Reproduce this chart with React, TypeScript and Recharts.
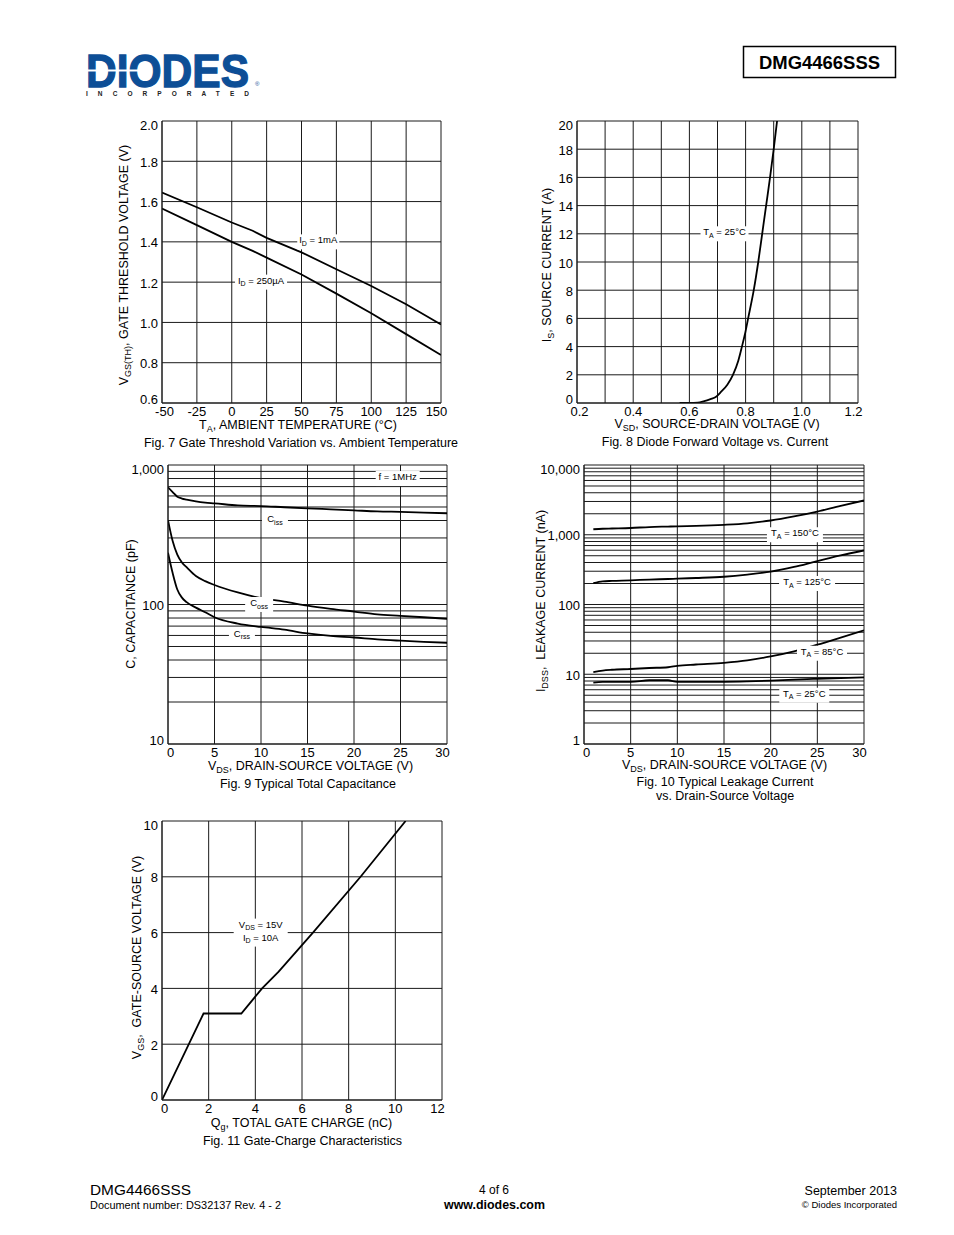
import React from 'react';
import { LineChart, Line, XAxis, YAxis, CartesianGrid, ReferenceDot } from 'recharts';

const FONT = '"Liberation Sans", Arial, Helvetica, sans-serif';
const INK = '#000';
const GRID = '#1a1a1a';

// ---------------- Fig. 7  Gate threshold vs temperature ----------------
const fig7Temp = [-50, -25, 0, 15, 25, 50, 75, 100, 125, 150];
const fig7Vth1mA = [1.645, 1.572, 1.496, 1.455, 1.42, 1.348, 1.264, 1.181, 1.09, 0.99];
const fig7Vth250uA = [1.565, 1.483, 1.4, 1.355, 1.322, 1.238, 1.143, 1.046, 0.942, 0.838];
const fig7XTicks = [-50, -25, 0, 25, 50, 75, 100, 125, 150];
const fig7YTicks = [0.6, 0.8, 1.0, 1.2, 1.4, 1.6, 1.8, 2.0];

// ---------------- Fig. 8  Diode forward voltage vs current ----------------
const fig8Vsd = [0.565, 0.6, 0.63, 0.65, 0.675, 0.695, 0.713, 0.735, 0.755, 0.774, 0.787, 0.799, 0.809, 0.829, 0.845, 0.859, 0.873, 0.887, 0.9, 0.912];
const fig8Is = [0, 0, 0.03, 0.12, 0.28, 0.45, 0.8, 1.3, 2.0, 3.0, 4.0, 5.0, 6.0, 8.0, 10, 12, 14, 16, 18, 20];
const fig8XTicks = [0.2, 0.4, 0.6, 0.8, 1.0, 1.2];
const fig8XGrid = [0.2, 0.3, 0.4, 0.5, 0.6, 0.7, 0.8, 0.9, 1.0, 1.1, 1.2];
const fig8YTicks = [0, 2, 4, 6, 8, 10, 12, 14, 16, 18, 20];

// ---------------- Fig. 9  Typical total capacitance ----------------
const fig9Vds = [0, 0.5, 1, 1.5, 2, 3, 4, 5, 7.5, 10, 12.5, 15, 17.5, 20, 22.5, 25, 27.5, 30];
const fig9Ciss = [692, 640, 592, 575, 565, 548, 537, 531, 513, 508, 498, 489, 481, 473, 465, 461, 456, 451];
const fig9Coss = [403, 285, 228, 200, 185, 160, 147, 138, 122, 111, 105, 98, 93, 89, 85, 83, 81, 79];
const fig9Crss = [235, 168, 128, 112, 104, 95, 88, 81, 73, 69, 66, 62, 59.5, 58, 56.2, 55, 54, 53.2];
const fig9XTicks = [0, 5, 10, 15, 20, 25, 30];
const fig9YTicks = [10, 100, 1000];
const fig9YGrid = [10, 20, 30, 40, 50, 60, 70, 80, 90, 100, 200, 300, 400, 500, 600, 700, 800, 900, 1000];

// ---------------- Fig. 10  Typical leakage current ----------------
const fig10Vds = [1, 2, 3, 5, 7, 9, 10, 12, 15, 17.5, 20, 22.5, 25, 27.5, 30];
const fig10Leak150 = [1200, 1220, 1230, 1250, 1290, 1310, 1320, 1340, 1390, 1460, 1600, 1830, 2150, 2600, 3100];
const fig10Leak125 = [202, 215, 218, 222, 228, 232, 235, 240, 250, 268, 295, 345, 420, 505, 595];
const fig10Leak85 = [10.7, 11.3, 11.6, 11.9, 12.3, 12.6, 13.2, 13.8, 14.6, 15.8, 18, 21.3, 26.5, 33.5, 42.5];
const fig10Leak25 = [7.6, 7.8, 7.8, 7.8, 8.2, 8.2, 7.8, 7.8, 7.8, 7.9, 8.1, 8.4, 8.6, 8.8, 9.0];
const fig10XTicks = [0, 5, 10, 15, 20, 25, 30];
const fig10YTicks = [1, 10, 100, 1000, 10000];
const fig10YGrid = [1, 2, 3, 4, 5, 6, 7, 8, 9, 10, 20, 30, 40, 50, 60, 70, 80, 90, 100, 200, 300, 400, 500, 600, 700, 800, 900, 1000, 2000, 3000, 4000, 5000, 6000, 7000, 8000, 9000, 10000];

// ---------------- Fig. 11  Gate charge ----------------
const fig11Qg = [0, 1.78, 3.4, 4.29, 5.0, 6.47, 8.51, 10.44];
const fig11Vgs = [0, 3.1, 3.1, 4.0, 4.6, 6.0, 8.0, 10.0];
const fig11XTicks = [0, 2, 4, 6, 8, 10, 12];
const fig11YTicks = [0, 2, 4, 6, 8, 10];

type Pt = { x: number; y: number };
const zip = (xs: number[], ys: number[]): Pt[] => xs.map((x, i) => ({ x, y: ys[i] }));

type Part = { t: string; s?: boolean };
type Ann = { x: number; y: number; w: number; lines: Part[][] };

function renderParts(parts: Part[], fs: number, sfs: number, shift: number) {
  let prevSub = false;
  return parts.map((p, j) => {
    let dy = 0;
    if (p.s && !prevSub) dy = shift;
    if (!p.s && prevSub) dy = -shift;
    prevSub = !!p.s;
    return (
      <tspan key={j} fontSize={p.s ? sfs : fs} dy={dy}>
        {p.t}
      </tspan>
    );
  });
}

const AnnShape = (props: any) => {
  const { cx, cy, ann } = props;
  if (typeof cx !== 'number' || typeof cy !== 'number') return null;
  const lh = 13;
  const h = ann.lines.length * lh + 2;
  const top = cy - h / 2;
  return (
    <g>
      <rect x={cx - ann.w / 2} y={top} width={ann.w} height={h} fill="#fff" />
      {ann.lines.map((ln: Part[], i: number) => (
        <text
          key={i}
          x={cx}
          y={top + 9 + i * lh}
          textAnchor="middle"
          fontFamily={FONT}
          fontSize={9.5}
          fill={INK}
          style={{ whiteSpace: 'pre' }}
        >
          {renderParts(ln, 9.5, 7, 2.5)}
        </text>
      ))}
    </g>
  );
};

const fmtComma = (v: number) => v.toLocaleString('en-US');
const fmt1 = (v: number) => v.toFixed(1);
const fmtPlain = (v: number) => String(v);

type PlotProps = {
  left: number;
  top: number;
  width: number;
  height: number;
  xDomain: [number, number];
  yDomain: [number, number];
  xTicks: number[];
  yTicks: number[];
  xGrid: number[];
  yGrid: number[];
  yLog?: boolean;
  xFmt?: (v: number) => string;
  yFmt?: (v: number) => string;
  series: Pt[][];
  curve: 'linear' | 'monotone';
  anns: Ann[];
};

function Plot(p: PlotProps) {
  const padL = 60;
  const padT = 10;
  const padR = 14;
  const padB = 30;
  const xf = p.xFmt || fmtPlain;
  const yf = p.yFmt || fmtPlain;
  const xTick = (tp: any) => {
    const v = tp.payload.value;
    const sh = v === p.xDomain[0] ? 2.5 : v === p.xDomain[1] ? -4.5 : 0;
    return (
      <text x={tp.x + sh} y={tp.y} dy="0.71em" textAnchor="middle" fill={INK} fontSize={13} fontFamily={FONT}>
        {xf(v)}
      </text>
    );
  };
  const yTick = (tp: any) => {
    const v = tp.payload.value;
    const sh = v === p.yDomain[1] ? 4 : v === p.yDomain[0] ? -3.5 : 1;
    return (
      <text x={tp.x} y={tp.y + sh} dy="0.355em" textAnchor="end" fill={INK} fontSize={13} fontFamily={FONT}>
        {yf(v)}
      </text>
    );
  };
  return (
    <div style={{ position: 'absolute', left: p.left - padL, top: p.top - padT }}>
      <LineChart
        width={p.width + padL + padR}
        height={p.height + padT + padB}
        margin={{ top: padT, right: padR, left: 0, bottom: 0 }}
      >
        <CartesianGrid
          stroke={GRID}
          strokeWidth={1}
          strokeOpacity={1}
          horizontalValues={p.yGrid}
          verticalValues={p.xGrid}
          fill="none"
        />
        <XAxis
          type="number"
          dataKey="x"
          domain={p.xDomain}
          ticks={p.xTicks}
          allowDataOverflow
          height={padB}
          tickLine={false}
          axisLine={{ stroke: GRID }}
          tick={xTick}
          tickSize={0}
          tickMargin={4}
          interval={0}
        />
        <YAxis
          type="number"
          scale={p.yLog ? 'log' : 'auto'}
          domain={p.yDomain}
          ticks={p.yTicks}
          allowDataOverflow
          width={padL}
          tickLine={false}
          axisLine={{ stroke: GRID }}
          tick={yTick}
          tickSize={0}
          tickMargin={4}
          interval={0}
        />
        {p.series.map((d, i) => (
          <Line
            key={i}
            data={d}
            dataKey="y"
            type={p.curve}
            stroke={INK}
            strokeWidth={1.8}
            dot={false}
            activeDot={false}
            isAnimationActive={false}
          />
        ))}
        {p.anns.map((a, i) => (
          <ReferenceDot
            key={'a' + i}
            x={a.x}
            y={a.y}
            r={0}
            ifOverflow="visible"
            shape={(sp: any) => <AnnShape cx={sp.cx} cy={sp.cy} ann={a} />}
          />
        ))}
      </LineChart>
    </div>
  );
}

// ---------- annotations ----------
const fig7Anns: Ann[] = [
  { x: 62, y: 1.4, w: 42, lines: [[{ t: 'I' }, { t: 'D', s: true }, { t: ' = 1mA' }]] },
  { x: 21, y: 1.2, w: 52, lines: [[{ t: 'I' }, { t: 'D', s: true }, { t: ' = 250µA' }]] },
];
const fig8Anns: Ann[] = [
  { x: 0.725, y: 12, w: 48, lines: [[{ t: 'T' }, { t: 'A', s: true }, { t: ' = 25°C' }]] },
];
const fig9Anns: Ann[] = [
  { x: 24.7, y: 800, w: 44, lines: [[{ t: 'f = 1MHz' }]] },
  { x: 11.5, y: 400, w: 26, lines: [[{ t: 'C' }, { t: 'iss', s: true }]] },
  { x: 9.8, y: 100, w: 28, lines: [[{ t: 'C' }, { t: 'oss', s: true }]] },
  { x: 7.95, y: 60, w: 26, lines: [[{ t: 'C' }, { t: 'rss', s: true }]] },
];
const fig10Anns: Ann[] = [
  { x: 22.6, y: 1000, w: 56, lines: [[{ t: 'T' }, { t: 'A', s: true }, { t: ' = 150°C' }]] },
  { x: 23.9, y: 200, w: 56, lines: [[{ t: 'T' }, { t: 'A', s: true }, { t: ' = 125°C' }]] },
  { x: 25.5, y: 20, w: 50, lines: [[{ t: 'T' }, { t: 'A', s: true }, { t: ' = 85°C' }]] },
  { x: 23.6, y: 5, w: 50, lines: [[{ t: 'T' }, { t: 'A', s: true }, { t: ' = 25°C' }]] },
];
const fig11Anns: Ann[] = [
  {
    x: 4.23,
    y: 6,
    w: 54,
    lines: [
      [{ t: 'V' }, { t: 'DS', s: true }, { t: ' = 15V' }],
      [{ t: 'I' }, { t: 'D', s: true }, { t: ' = 10A' }],
    ],
  },
];

// ---------- static page text ----------
type TitleSpec = { x: number; y: number; rot?: boolean; parts: Part[] };
const titles: TitleSpec[] = [
  { x: 123, y: 265, rot: true, parts: [{ t: 'V' }, { t: 'GS(TH)', s: true }, { t: ', GATE THRESHOLD VOLTAGE (V)' }] },
  { x: 298, y: 424.5, parts: [{ t: 'T' }, { t: 'A', s: true }, { t: ', AMBIENT TEMPERATURE (°C)' }] },
  { x: 301, y: 442.5, parts: [{ t: 'Fig. 7 Gate Threshold Variation vs. Ambient Temperature' }] },
  { x: 546, y: 265, rot: true, parts: [{ t: 'I' }, { t: 'S', s: true }, { t: ', SOURCE CURRENT (A)' }] },
  { x: 717, y: 423.5, parts: [{ t: 'V' }, { t: 'SD', s: true }, { t: ', SOURCE-DRAIN VOLTAGE (V)' }] },
  { x: 715, y: 441, parts: [{ t: 'Fig. 8 Diode Forward Voltage vs. Current' }] },
  { x: 130, y: 604, rot: true, parts: [{ t: 'C, CAPACITANCE (pF)' }] },
  { x: 310.5, y: 765.5, parts: [{ t: 'V' }, { t: 'DS', s: true }, { t: ', DRAIN-SOURCE VOLTAGE (V)' }] },
  { x: 308, y: 783, parts: [{ t: 'Fig. 9 Typical Total Capacitance' }] },
  { x: 540, y: 601, rot: true, parts: [{ t: 'I' }, { t: 'DSS', s: true }, { t: ',  LEAKAGE CURRENT (nA)' }] },
  { x: 724.5, y: 764.5, parts: [{ t: 'V' }, { t: 'DS', s: true }, { t: ', DRAIN-SOURCE VOLTAGE (V)' }] },
  { x: 725, y: 781, parts: [{ t: 'Fig. 10 Typical Leakage Current' }] },
  { x: 725, y: 795, parts: [{ t: 'vs. Drain-Source Voltage' }] },
  { x: 136, y: 957.5, rot: true, parts: [{ t: 'V' }, { t: 'GS', s: true }, { t: ',  GATE-SOURCE VOLTAGE (V)' }] },
  { x: 301.5, y: 1122.5, parts: [{ t: 'Q' }, { t: 'g', s: true }, { t: ', TOTAL GATE CHARGE (nC)' }] },
  { x: 302.5, y: 1140.5, parts: [{ t: 'Fig. 11 Gate-Charge Characteristics' }] },
];

function PageText() {
  const fs = 12.5;
  return (
    <svg
      width={954}
      height={1235}
      style={{ position: 'absolute', left: 0, top: 0, pointerEvents: 'none' }}
      fontFamily={FONT}
    >
      {/* logo: one text element with positioned parts */}
      <text>
        <tspan x={86} y={87} fontSize={47} fontWeight={700} fill="#0D4E96" stroke="#0D4E96" strokeWidth={1.3} textLength={163} lengthAdjust="spacingAndGlyphs">
          DIODES
        </tspan>
        <tspan x={255} y={86} fontSize={6} fill="#0D4E96">®</tspan>
        <tspan x={86} y={96} fontSize={6.5} fontWeight={700} fill="#222" textLength={163} lengthAdjust="spacing">
          INCORPORATED
        </tspan>
      </text>
      <rect x={86} y={69.5} width={64} height={2} fill="#fff" />
      {/* part number box */}
      <rect x={743.5} y={46.5} width={152} height={31} fill="none" stroke="#000" strokeWidth={1.5} />
      <text x={819.5} y={68.5} fontSize={18.5} fontWeight={700} textAnchor="middle" fill="#000" textLength={121} lengthAdjust="spacingAndGlyphs">
        DMG4466SSS
      </text>
      {/* chart titles and captions */}
      {titles.map((t, i) => (
        <text
          key={i}
          transform={`translate(${t.x},${t.y})${t.rot ? ' rotate(-90)' : ''}`}
          x={0}
          y={4.5}
          textAnchor="middle"
          fontSize={fs}
          fill="#000"
          style={{ whiteSpace: 'pre' }}
        >
          {renderParts(t.parts, fs, 9, 3)}
        </text>
      ))}
      {/* footer */}
      <text x={90} y={1195} fontSize={14.5} fill="#000" textLength={101} lengthAdjust="spacingAndGlyphs">DMG4466SSS</text>
      <text x={90} y={1209} fontSize={10.5} fill="#000" textLength={191} lengthAdjust="spacingAndGlyphs">Document number: DS32137 Rev. 4 - 2</text>
      <text x={494} y={1193.5} fontSize={12} fill="#000" textAnchor="middle">4 of 6</text>
      <text x={494.5} y={1208.5} fontSize={12} fontWeight={700} fill="#000" textAnchor="middle" textLength={101} lengthAdjust="spacingAndGlyphs">www.diodes.com</text>
      <text x={897} y={1194.5} fontSize={12.5} fill="#000" textAnchor="end">September 2013</text>
      <text x={897} y={1207.5} fontSize={9.5} fill="#000" textAnchor="end">© Diodes Incorporated</text>
    </svg>
  );
}

export default function App() {
  return (
    <div
      style={{
        position: 'absolute',
        left: 0,
        top: 0,
        width: 954,
        height: 1235,
        background: '#fff',
        fontFamily: FONT,
        overflow: 'hidden',
      }}
    >
      <PageText />
      <Plot
        left={162}
        top={121}
        width={279}
        height={282}
        xDomain={[-50, 150]}
        yDomain={[0.6, 2.0]}
        xTicks={fig7XTicks}
        yTicks={fig7YTicks}
        xGrid={fig7XTicks}
        yGrid={fig7YTicks}
        yFmt={fmt1}
        series={[zip(fig7Temp, fig7Vth1mA), zip(fig7Temp, fig7Vth250uA)]}
        curve="linear"
        anns={fig7Anns}
      />
      <Plot
        left={577}
        top={121}
        width={281}
        height={282}
        xDomain={[0.2, 1.2]}
        yDomain={[0, 20]}
        xTicks={fig8XTicks}
        yTicks={fig8YTicks}
        xGrid={fig8XGrid}
        yGrid={fig8YTicks}
        xFmt={fmt1}
        series={[zip(fig8Vsd, fig8Is)]}
        curve="monotone"
        anns={fig8Anns}
      />
      <Plot
        left={168}
        top={465}
        width={279}
        height={279}
        xDomain={[0, 30]}
        yDomain={[10, 1000]}
        yLog
        xTicks={fig9XTicks}
        yTicks={fig9YTicks}
        xGrid={fig9XTicks}
        yGrid={fig9YGrid}
        yFmt={fmtComma}
        series={[zip(fig9Vds, fig9Ciss), zip(fig9Vds, fig9Coss), zip(fig9Vds, fig9Crss)]}
        curve="monotone"
        anns={fig9Anns}
      />
      <Plot
        left={584}
        top={465}
        width={280}
        height={279}
        xDomain={[0, 30]}
        yDomain={[1, 10000]}
        yLog
        xTicks={fig10XTicks}
        yTicks={fig10YTicks}
        xGrid={fig10XTicks}
        yGrid={fig10YGrid}
        yFmt={fmtComma}
        series={[
          zip(fig10Vds, fig10Leak150),
          zip(fig10Vds, fig10Leak125),
          zip(fig10Vds, fig10Leak85),
          zip(fig10Vds, fig10Leak25),
        ]}
        curve="monotone"
        anns={fig10Anns}
      />
      <Plot
        left={162}
        top={821}
        width={280}
        height={279}
        xDomain={[0, 12]}
        yDomain={[0, 10]}
        xTicks={fig11XTicks}
        yTicks={fig11YTicks}
        xGrid={fig11XTicks}
        yGrid={fig11YTicks}
        series={[zip(fig11Qg, fig11Vgs)]}
        curve="linear"
        anns={fig11Anns}
      />
    </div>
  );
}
